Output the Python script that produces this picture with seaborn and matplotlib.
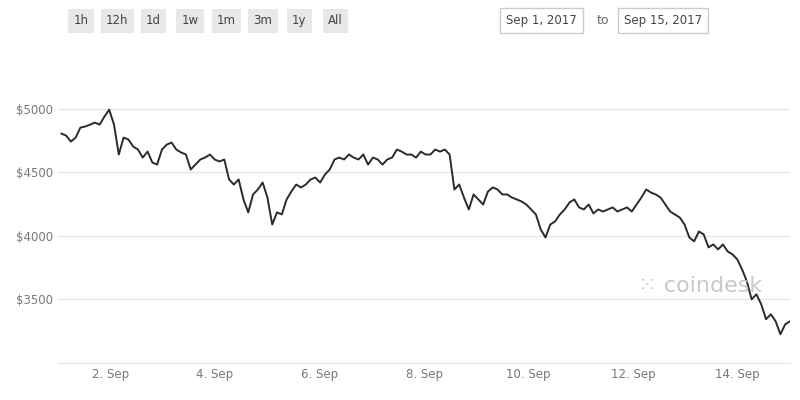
import pandas as pd
import seaborn as sns
import matplotlib.pyplot as plt
import matplotlib.dates as mdates

# BTC price, Sep 1 - Sep 15 2017
prices = [4804, 4788, 4741, 4772, 4851, 4859, 4874, 4890, 4874, 4937, 4992, 4874, 4639, 4772,
          4757, 4702, 4678, 4615, 4662, 4576, 4560, 4678, 4717, 4733, 4678, 4655, 4639, 4521,
          4560, 4600, 4615, 4639, 4600, 4584, 4600, 4443, 4403, 4443, 4286, 4184, 4325, 4364,
          4419, 4301, 4089, 4184, 4168, 4286, 4348, 4403, 4380, 4403, 4443, 4458, 4419, 4482,
          4521, 4600, 4615, 4600, 4639, 4615, 4600, 4639, 4560, 4615, 4600, 4560, 4600, 4615,
          4678, 4662, 4639, 4639, 4615, 4662, 4639, 4639, 4678, 4662, 4678, 4639, 4364, 4403,
          4301, 4207, 4325, 4286, 4246, 4348, 4380, 4364, 4325, 4325, 4301, 4286, 4270, 4246,
          4207, 4168, 4050, 3987, 4089, 4113, 4168, 4207, 4262, 4286, 4223, 4207, 4246, 4176,
          4207, 4191, 4207, 4223, 4191, 4207, 4223, 4191, 4246, 4301, 4364, 4340, 4325, 4301,
          4246, 4191, 4168, 4144, 4089, 3987, 3956, 4034, 4011, 3909, 3932, 3893, 3932, 3877,
          3854, 3815, 3736, 3642, 3501, 3540, 3461, 3344, 3383, 3328, 3226, 3304, 3328]
times = pd.date_range("2017-09-01 01:30", "2017-09-15 00:00", periods=len(prices))
df = pd.DataFrame({"time": times, "price": prices})

y_ticks = [3500, 4000, 4500, 5000]
x_ticks = pd.date_range("2017-09-02", "2017-09-14", freq="2D")
buttons = ["1h", "12h", "1d", "1w", "1m", "3m", "1y", "All"]

sns.set_style("white")
fig = plt.figure(figsize=(8, 4), dpi=100)
ax = fig.add_axes([0.0725, 0.0925, 0.915, 0.795])
sns.lineplot(data=df, x="time", y="price", color="#2b2b2b", linewidth=1.4, ax=ax)

ax.set_ylim(3000, 5500)
ax.set_xlim(pd.Timestamp("2017-09-01 00:00"), pd.Timestamp("2017-09-15 00:00"))
ax.set_yticks(y_ticks)
ax.set_yticklabels([f"${v}" for v in y_ticks])
ax.set_xticks(x_ticks)
ax.xaxis.set_major_formatter(mdates.DateFormatter("%-d. Sep"))
ax.grid(axis="y", color="#e6e6e6", linewidth=1)
ax.tick_params(colors="#777777", labelsize=8.5, length=0)
ax.set_xlabel("")
ax.set_ylabel("")
for s in ["top", "right", "left"]:
    ax.spines[s].set_visible(False)
ax.spines["bottom"].set_color("#e6e6e6")

# range buttons
bx = 0.08
for b in buttons:
    fig.text(bx + 0.021, 0.948, b, ha="center", va="center", fontsize=8.5, color="#444444",
             bbox=dict(boxstyle="square,pad=0.45", fc="#e8e8e8", ec="none"))
    bx += 0.0455
fig.text(0.677, 0.948, "Sep 1, 2017", ha="center", va="center", fontsize=8.5, color="#444444",
         bbox=dict(boxstyle="square,pad=0.5", fc="white", ec="#cccccc"))
fig.text(0.754, 0.948, "to", ha="center", va="center", fontsize=9, color="#666666")
fig.text(0.829, 0.948, "Sep 15, 2017", ha="center", va="center", fontsize=8.5, color="#444444",
         bbox=dict(boxstyle="square,pad=0.5", fc="white", ec="#cccccc"))

# watermark
fig.text(0.797, 0.285, "\u2059 coindesk", ha="left", va="center", fontsize=16, color="#c8c8c8")

fig.savefig("out.png")
